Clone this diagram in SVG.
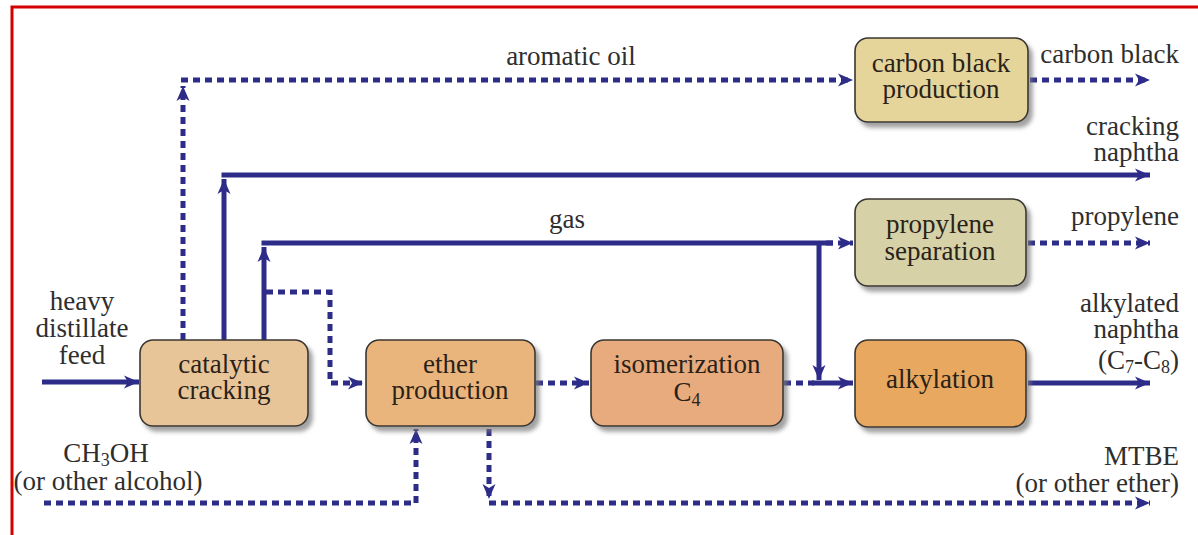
<svg xmlns="http://www.w3.org/2000/svg" width="1198" height="535" viewBox="0 0 1198 535">
<style>
  .bg { fill: #ffffff; }
  .frame { fill: none; stroke: #d40000; stroke-width: 3; }
  .box { stroke: #3a3630; stroke-width: 1.6; filter: url(#shadow); }
  .solid { fill: none; stroke: #2d2c88; stroke-width: 5; }
  .dot { fill: none; stroke: #2d2c88; stroke-width: 5; stroke-dasharray: 7 5; }
  .lbl { font-family: "Liberation Serif", "Times New Roman", serif; font-size: 27px; fill: #2e2e2e; }
  .in { font-family: "Liberation Serif", "Times New Roman", serif; font-size: 27px; fill: #2a2218; text-anchor: middle; }
  .mid { text-anchor: middle; }
  .end { text-anchor: end; }
</style>
<defs>
  <filter id="shadow" x="-10%" y="-10%" width="130%" height="140%">
    <feDropShadow dx="4" dy="5" stdDeviation="2" flood-color="#7a7a7a" flood-opacity="0.7"/>
  </filter>
  <marker id="ah" markerUnits="userSpaceOnUse" markerWidth="16" markerHeight="14" refX="15" refY="7" orient="auto">
    <path d="M0,0.5 L15,7 L0,13.5 L4,7 Z" fill="#2d2c88"/>
  </marker>
</defs>
<rect class="bg" x="0" y="0" width="1198" height="535"/>
<rect class="frame" x="12" y="7" width="1200" height="540"/>

<g id="connectors">
  <path class="solid" d="M42,382 H139" marker-end="url(#ah)"/>
  <path class="dot" d="M183,340 V86" marker-end="url(#ah)"/>
  <path class="dot" d="M181,80 H853" marker-end="url(#ah)"/>
  <path class="solid" d="M224,340 V179" marker-end="url(#ah)"/>
  <path class="solid" d="M221.5,175 H1150" marker-end="url(#ah)"/>
  <path class="solid" d="M264,340 V247" marker-end="url(#ah)"/>
  <path class="solid" d="M261.5,243 H833"/>
  <path class="dot" d="M826,243 H853" marker-end="url(#ah)"/>
  <path class="solid" d="M819,243 V380" marker-end="url(#ah)"/>
  <path class="dot" d="M266,292 H330 V383 H363" marker-end="url(#ah)"/>
  <path class="dot" d="M536,383 H589" marker-end="url(#ah)"/>
  <path class="dot" d="M784,383 H814"/>
  <path class="solid" d="M812,383 H853" marker-end="url(#ah)"/>
  <path class="dot" d="M44,503 H416 V429" marker-end="url(#ah)"/>
  <path class="dot" d="M489,429 V499" marker-end="url(#ah)"/>
  <path class="dot" d="M489,503 H1150" marker-end="url(#ah)"/>
  <path class="dot" d="M1030,80 H1150" marker-end="url(#ah)"/>
  <path class="dot" d="M1028,243 H1150" marker-end="url(#ah)"/>
  <path class="solid" d="M1028,383 H1150" marker-end="url(#ah)"/>
</g>

<g id="catalytic-cracking">
  <rect class="box" x="140" y="340" width="168" height="86" rx="13" fill="#e8c598"/>
  <text class="in" x="224" y="373">catalytic</text>
  <text class="in" x="224" y="399">cracking</text>
</g>
<g id="ether-production">
  <rect class="box" x="366" y="340" width="169" height="86" rx="13" fill="#eab57c"/>
  <text class="in" x="450" y="373">ether</text>
  <text class="in" x="450" y="399">production</text>
</g>
<g id="isomerization">
  <rect class="box" x="591" y="340" width="192" height="86" rx="13" fill="#e8ab7e"/>
  <text class="in" x="687" y="373">isomerization</text>
  <text class="in" x="687" y="401">C<tspan font-size="18" dy="5">4</tspan></text>
</g>
<g id="alkylation">
  <rect class="box" x="855" y="340" width="171" height="87" rx="13" fill="#e8a860"/>
  <text class="in" x="940" y="388">alkylation</text>
</g>
<g id="propylene-separation">
  <rect class="box" x="855" y="199" width="171" height="87" rx="13" fill="#d6d1a6"/>
  <text class="in" x="940" y="233">propylene</text>
  <text class="in" x="940" y="260">separation</text>
</g>
<g id="carbon-black-production">
  <rect class="box" x="855" y="38" width="173" height="84" rx="13" fill="#e6d59a"/>
  <text class="in" x="941" y="72">carbon black</text>
  <text class="in" x="941" y="98">production</text>
</g>

<g id="labels">
  <text class="lbl mid" x="571" y="65">aromatic oil</text>
  <text class="lbl mid" x="567" y="228">gas</text>
  <text class="lbl end" x="1179" y="63">carbon black</text>
  <text class="lbl end" x="1179" y="135">cracking</text>
  <text class="lbl end" x="1179" y="161">naphtha</text>
  <text class="lbl end" x="1179" y="225">propylene</text>
  <text class="lbl end" x="1179" y="312">alkylated</text>
  <text class="lbl end" x="1179" y="338">naphtha</text>
  <text class="lbl end" x="1179" y="369">(C<tspan font-size="18" dy="4">7</tspan><tspan dy="-4">-C</tspan><tspan font-size="18" dy="4">8</tspan><tspan dy="-4">)</tspan></text>
  <text class="lbl end" x="1179" y="465">MTBE</text>
  <text class="lbl end" x="1179" y="492">(or other ether)</text>
  <text class="lbl mid" x="82" y="310">heavy</text>
  <text class="lbl mid" x="82" y="337">distillate</text>
  <text class="lbl mid" x="82" y="364">feed</text>
  <text class="lbl mid" x="106" y="462">CH<tspan font-size="18" dy="4">3</tspan><tspan dy="-4">OH</tspan></text>
  <text class="lbl mid" x="108" y="490">(or other alcohol)</text>
</g>
</svg>
